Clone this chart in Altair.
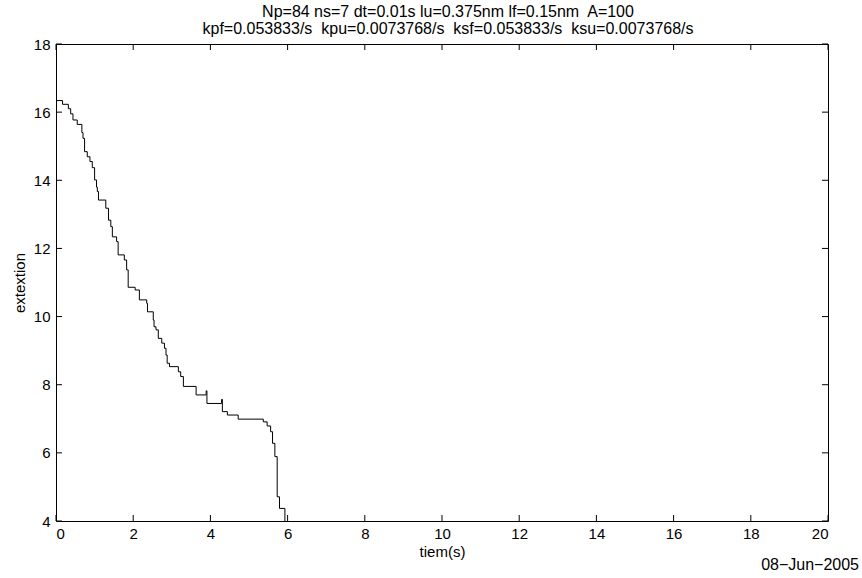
import altair as alt
import pandas as pd

# Data
t_vals = [0, 0.17, 0.32, 0.38, 0.44, 0.55, 0.67, 0.70, 0.74, 0.81, 0.88, 0.94, 1.0, 1.05,
          1.07, 1.1, 1.29, 1.36, 1.42, 1.46, 1.57, 1.61, 1.77, 1.83, 1.87, 2.05, 2.16, 2.35,
          2.37, 2.52, 2.54, 2.59, 2.65, 2.74, 2.81, 2.85, 2.88, 2.94, 3.17, 3.23, 3.3, 3.63,
          3.89, 3.91, 4.29, 4.31, 4.44, 4.72, 5.37, 5.47, 5.56, 5.61, 5.67, 5.73, 5.79, 5.93]
ext_vals = [16.34, 16.23, 16.1, 15.95, 15.77, 15.64, 15.4, 15.23, 14.84, 14.69, 14.55, 14.37, 14.01, 13.8,
            13.67, 13.42, 13.18, 12.83, 12.64, 12.34, 12.2, 11.81, 11.66, 11.37, 10.86, 10.78, 10.49, 10.39,
            10.14, 9.9, 9.7, 9.61, 9.36, 9.22, 9.07, 8.87, 8.63, 8.53, 8.38, 8.24, 7.95, 7.7,
            7.82, 7.45, 7.57, 7.21, 7.11, 6.99, 6.91, 6.79, 6.62, 6.28, 5.89, 4.71, 4.37, 4.0]

x_ticks = list(range(0, 21, 2))
y_ticks = list(range(4, 19, 2))

NB = "\u00a0"
title_line1 = "Np=84 ns=7 dt=0.01s lu=0.375nm lf=0.15nm" + NB + " A=100"
title_line2 = ("kpf=0.053833/s" + NB + " kpu=0.0073768/s" + NB + " ksf=0.053833/s"
               + NB + " ksu=0.0073768/s")
date_text = "08\u2212Jun\u22122005"

W, H = 772, 477
FONT = "Liberation Sans"

df = pd.DataFrame({"t": t_vals, "ext": ext_vals})
xs = alt.Scale(domain=[0, 20], nice=False, zero=False)
ys = alt.Scale(domain=[4, 18], nice=False, zero=False)

line = alt.Chart(df).mark_line(color="black", strokeWidth=1, interpolate="step-after", clip=True).encode(
    x=alt.X("t:Q", scale=xs, axis=alt.Axis(values=x_ticks, title="tiem(s)", titlePadding=3,
                                           labelPadding=5, ticks=False, domain=False, grid=False)),
    y=alt.Y("ext:Q", scale=ys, axis=alt.Axis(values=y_ticks, title="extextion", titlePadding=6,
                                             labelPadding=6, ticks=False, domain=False, grid=False)),
)

xt = pd.DataFrame({"x": x_ticks})
yt = pd.DataFrame({"y": y_ticks})

xbot = alt.Chart(xt).mark_rule(color="black", strokeWidth=1).encode(
    x=alt.X("x:Q", scale=xs), y=alt.value(H), y2=alt.value(H - 6))
xtop = alt.Chart(xt).mark_rule(color="black", strokeWidth=1).encode(
    x=alt.X("x:Q", scale=xs), y=alt.value(0), y2=alt.value(6))
yleft = alt.Chart(yt).mark_rule(color="black", strokeWidth=1).encode(
    y=alt.Y("y:Q", scale=ys), x=alt.value(0), x2=alt.value(6))
yright = alt.Chart(yt).mark_rule(color="black", strokeWidth=1).encode(
    y=alt.Y("y:Q", scale=ys), x=alt.value(W), x2=alt.value(W - 6))

t1 = alt.Chart(pd.DataFrame({"txt": [title_line1]})).mark_text(
    font=FONT, fontSize=16, color="black", align="center", baseline="middle").encode(
    text="txt:N", x=alt.value(W / 2 + 6), y=alt.value(-32))
t2 = alt.Chart(pd.DataFrame({"txt": [title_line2]})).mark_text(
    font=FONT, fontSize=16, color="black", align="center", baseline="middle").encode(
    text="txt:N", x=alt.value(W / 2 + 6), y=alt.value(-15))

date = alt.Chart(pd.DataFrame({"txt": [date_text]})).mark_text(
    font=FONT, fontSize=16, color="black", align="right", baseline="middle").encode(
    text="txt:N", x=alt.value(W + 31), y=alt.value(H + 44))

chart = alt.layer(line, xbot, xtop, yleft, yright, t1, t2, date).properties(
    width=W, height=H,
    autosize=alt.AutoSizeParams(type="none"),
    padding={"left": 56, "top": 44, "right": 34, "bottom": 57},
    background="white",
).configure_view(stroke="black", strokeWidth=1).configure_axis(
    labelFont=FONT, labelFontSize=15, labelColor="black",
    titleFont=FONT, titleFontSize=15, titleColor="black", titleFontWeight="normal",
)

chart.save("out.html", embed_options={"renderer": "svg", "actions": False})
